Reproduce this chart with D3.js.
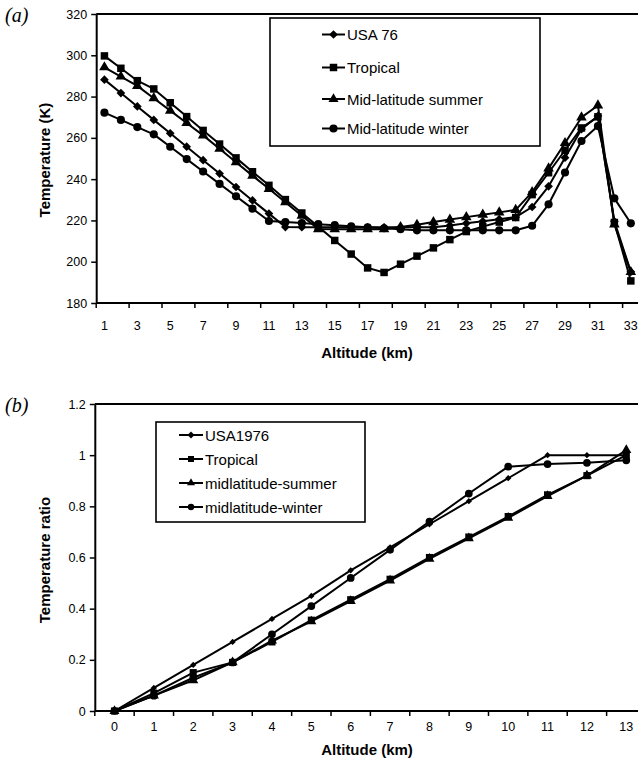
<!DOCTYPE html>
<html>
<head>
<meta charset="utf-8">
<script src="https://cdn.jsdelivr.net/npm/d3@7"></script>
<style>
  html, body { margin: 0; padding: 0; background: #fff; }
  svg { display: block; }
  text { font-family: "Liberation Sans", Arial, sans-serif; fill: #000; }
</style>
</head>
<body>
<svg id="chart" width="638" height="766"></svg>
<script>
// ---- Panel (a): temperature profiles (K) against altitude index ----
const altitudeA = d3.range(1, 34);
const usa76 = [288.2, 281.7, 275.2, 268.7, 262.2, 255.7, 249.2, 242.7, 236.2, 229.7, 223.3,
  216.8, 216.7, 216.7, 216.7, 216.7, 216.7, 216.7, 216.7, 216.7, 216.7, 217.6, 218.6, 219.6,
  220.6, 221.6, 226.5, 236.5, 250.4, 264.2, 270.6, 219.6, 195.1];
const tropical = [299.7, 293.7, 287.7, 283.7, 277.0, 270.3, 263.6, 257.0, 250.3, 243.6, 237.0,
  230.1, 223.6, 217.0, 210.3, 203.7, 197.0, 194.8, 198.8, 202.7, 206.7, 210.7, 214.6, 217.0,
  219.2, 221.4, 232.5, 243.1, 254.0, 264.8, 270.2, 219.0, 190.7];
const midSummer = [294.2, 289.7, 285.2, 279.2, 273.2, 267.2, 261.2, 254.7, 248.2, 241.7, 235.3,
  228.8, 222.3, 215.8, 215.7, 215.7, 215.7, 215.7, 216.8, 217.9, 219.2, 220.4, 221.6, 222.8,
  223.9, 225.1, 233.7, 245.2, 257.5, 269.9, 275.7, 218.1, 195.0];
const midWinter = [272.2, 268.7, 265.2, 261.7, 255.7, 249.7, 243.7, 237.7, 231.7, 225.7, 219.7,
  219.2, 218.7, 218.2, 217.7, 217.2, 216.7, 216.2, 215.7, 215.2, 215.2, 215.2, 215.2, 215.2,
  215.2, 215.2, 217.4, 227.8, 243.2, 258.5, 265.7, 230.7, 218.6];
const seriesNamesA = ["USA 76", "Tropical", "Mid-latitude summer", "Mid-latitude winter"];
const tempTicks = [180, 200, 220, 240, 260, 280, 300, 320];

// ---- Panel (b): temperature ratio against altitude (km) ----
const altitudeB = d3.range(0, 14);
const usa1976Ratio = [0, 0.09, 0.18, 0.27, 0.36, 0.45, 0.55, 0.64, 0.73, 0.82, 0.91, 1.00, 1.00, 1.00];
const tropicalRatio = [0, 0.07, 0.15, 0.19, 0.27, 0.355, 0.435, 0.515, 0.60, 0.68, 0.76, 0.845, 0.92, 1.00];
const midSummerRatio = [0, 0.06, 0.12, 0.19, 0.275, 0.35, 0.43, 0.51, 0.595, 0.675, 0.755, 0.84, 0.92, 1.02];
const midWinterRatio = [0, 0.06, 0.13, 0.19, 0.30, 0.41, 0.52, 0.63, 0.74, 0.85, 0.955, 0.965, 0.97, 0.98];
const seriesNamesB = ["USA1976", "Tropical", "midlatitude-summer", "midlatitude-winter"];
const ratioTicks = [0, 0.2, 0.4, 0.6, 0.8, 1, 1.2];

const markerTypes = ["diamond", "square", "triangle", "circle"];

const svg = d3.select("#chart");

function markerPath(type, scale) {
  const k = scale || 1;
  if (type === "diamond") return d3.symbol(d3.symbolSquare, 38 * k * k)();
  if (type === "square") return d3.symbol(d3.symbolSquare, 56 * k * k)();
  if (type === "triangle") return d3.symbol(d3.symbolTriangle, 44 * k * k)();
  return d3.symbol(d3.symbolCircle, 52 * k * k)();
}
function drawMarker(g, type, x, y, scale) {
  g.append("path")
    .attr("d", markerPath(type, scale))
    .attr("transform", `translate(${x},${y})` + (type === "diamond" ? " rotate(45)" : ""))
    .attr("fill", "#000")
    .attr("stroke", "none");
}

function drawPanel(opt) {
  const g = svg.append("g");
  const x = d3.scaleBand().domain(opt.cats).range([opt.left, opt.left + opt.step * opt.cats.length]).paddingInner(0).paddingOuter(0);
  const cx = d => x(d) + x.bandwidth() / 2;
  const y = d3.scaleLinear().domain(opt.yDomain).range([opt.bottom, opt.top]);
  const right = opt.left + opt.step * opt.cats.length;

  // frame: top and right edges of the plot area
  g.append("path")
    .attr("d", `M${opt.left},${opt.top}H${right}V${opt.bottom}`)
    .attr("fill", "none").attr("stroke", "#000").attr("stroke-width", 2);

  // y axis
  const yAxis = d3.axisLeft(y).tickValues(opt.yTicks).tickSize(5).tickSizeOuter(0)
    .tickFormat(opt.yFormat);
  const ya = g.append("g").attr("transform", `translate(${opt.left},0)`).call(yAxis);
  ya.select(".domain").attr("stroke-width", 2);
  ya.selectAll(".tick line").attr("stroke-width", 1.5);
  ya.selectAll("text").attr("font-size", 12.5).attr("x", -9)
    .style("font-family", '"Liberation Sans", Arial, sans-serif');

  // x axis: ticks at category boundaries, labels at category centres
  const xa = g.append("g").attr("transform", `translate(0,${opt.bottom})`);
  xa.append("line").attr("x1", opt.left).attr("x2", right).attr("stroke", "#000").attr("stroke-width", 2);
  const tickCats = opt.cats.filter((d, i) => i % opt.tickEvery === 0);
  xa.selectAll("line.tk").data(tickCats.concat(["end"])).join("line")
    .attr("class", "tk")
    .attr("x1", d => d === "end" ? right : x(d))
    .attr("x2", d => d === "end" ? right : x(d))
    .attr("y1", 0).attr("y2", 5)
    .attr("stroke", "#000").attr("stroke-width", 1.5);
  xa.selectAll("text").data(tickCats).join("text")
    .attr("x", d => cx(d)).attr("y", opt.xLabelDy)
    .attr("text-anchor", "middle").attr("font-size", 12.5)
    .text(d => d);

  // axis titles
  g.append("text")
    .attr("transform", `translate(${opt.yTitleX},${opt.yTitleY}) rotate(-90)`)
    .attr("text-anchor", "middle").attr("font-size", 15).attr("font-weight", "bold")
    .text(opt.yTitle);
  g.append("text")
    .attr("x", 367).attr("y", opt.xTitleY)
    .attr("text-anchor", "middle").attr("font-size", 15).attr("font-weight", "bold")
    .text("Altitude (km)");

  // panel letter
  g.append("text")
    .attr("x", 5).attr("y", opt.letterY)
    .style("font-family", '"Liberation Serif", "DejaVu Serif", serif')
    .attr("font-style", "italic").attr("font-size", 20)
    .text(opt.letter);

  // series lines and markers
  const line = d3.line().x((d, i) => cx(opt.cats[i])).y(d => y(d));
  opt.series.forEach(vals => {
    g.append("path").attr("d", line(vals))
      .attr("fill", "none").attr("stroke", "#000").attr("stroke-width", 2)
      .attr("stroke-linejoin", "round");
  });
  opt.series.forEach((vals, s) => {
    vals.forEach((v, i) => drawMarker(g, markerTypes[s], cx(opt.cats[i]), y(v), opt.markerScale[s]));
  });

  // legend
  const L = opt.legend;
  g.append("rect").attr("x", L.x).attr("y", L.y).attr("width", L.w).attr("height", L.h)
    .attr("fill", "#fff").attr("stroke", "#000").attr("stroke-width", 1.6);
  opt.names.forEach((name, s) => {
    const yy = L.rows[s];
    g.append("line").attr("x1", L.sx1).attr("x2", L.sx2).attr("y1", yy).attr("y2", yy)
      .attr("stroke", "#000").attr("stroke-width", 2);
    drawMarker(g, markerTypes[s], (L.sx1 + L.sx2) / 2, yy, L.markerScale);
    g.append("text").attr("x", L.tx).attr("y", yy + 5.5)
      .attr("font-size", 15).text(name);
  });
}

drawPanel({
  cats: altitudeA, left: 96.2, step: 16.45, top: 14, bottom: 303,
  yDomain: [180, 320], yTicks: tempTicks, yFormat: d3.format("d"),
  tickEvery: 2, xLabelDy: 27, xTitleY: 358,
  yTitle: "Temperature (K)", yTitleX: 50, yTitleY: 160,
  letter: "(a)", letterY: 22,
  series: [usa76, tropical, midSummer, midWinter],
  names: seriesNamesA, markerScale: [1, 1, 1.05, 1],
  legend: { x: 270, y: 18, w: 270, h: 128, rows: [34.5, 67.5, 99, 128.5], sx1: 322, sx2: 345, tx: 347, markerScale: 1 }
});

drawPanel({
  cats: altitudeB, left: 94.8, step: 39.37, top: 404, bottom: 711,
  yDomain: [0, 1.2], yTicks: ratioTicks, yFormat: d => d3.format("~g")(d),
  tickEvery: 1, xLabelDy: 20, xTitleY: 755,
  yTitle: "Temperature ratio", yTitleX: 50, yTitleY: 560,
  letter: "(b)", letterY: 412,
  series: [usa1976Ratio, tropicalRatio, midSummerRatio, midWinterRatio],
  names: seriesNamesB, markerScale: [0.72, 0.95, 1, 0.95],
  legend: { x: 156, y: 422, w: 209, h: 100, rows: [435, 459, 483, 507], sx1: 179, sx2: 203, tx: 205, markerScale: 0.8 }
});
</script>
</body>
</html>
